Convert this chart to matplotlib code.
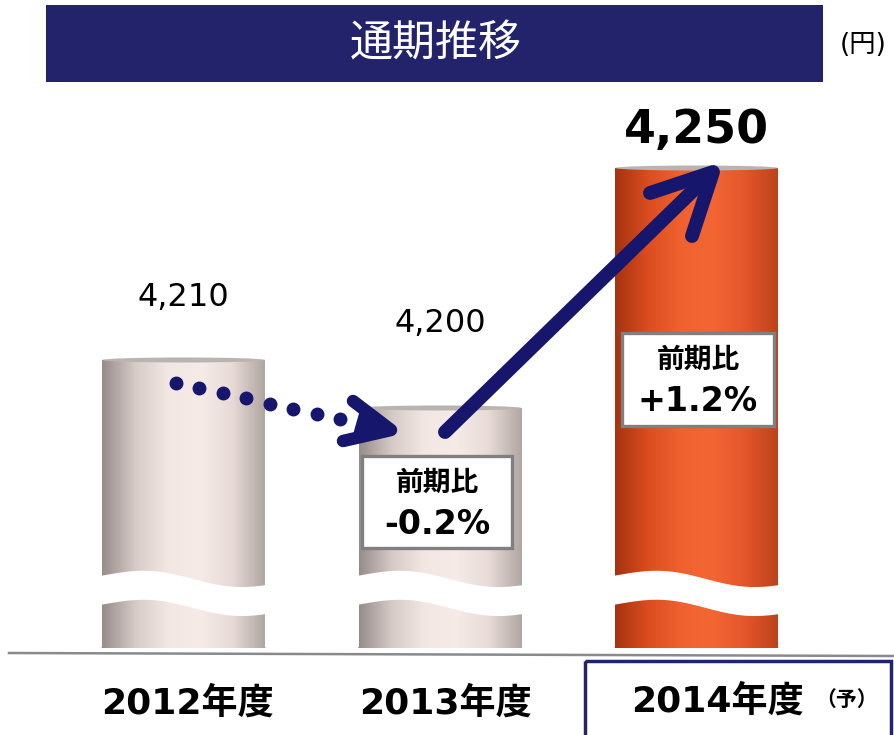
import numpy as np
import matplotlib
matplotlib.use("Agg")
import matplotlib.pyplot as plt
from matplotlib.colors import LinearSegmentedColormap
from matplotlib.patches import Rectangle, Ellipse, Polygon

plt.rcParams['font.family'] = ['DejaVu Sans', 'Noto Sans CJK JP']

# データ
years = ['2012年度', '2013年度', '2014年度']
values = [4210, 4200, 4250]
value_labels = ['4,210', '4,200', '4,250']
yoy_labels = ['', '-0.2%', '+1.2%']
base = 4150          # 省略軸の起点
top = 4285

W, H = 894, 735
fig = plt.figure(figsize=(W / 100, H / 100), dpi=100)

# 棒グラフ用の軸（上端0px〜下端648px）
ax = fig.add_axes([0, (H - 648) / H, 1, 648 / H])
ax.set_xlim(-183.5 / 256.5, (W - 183.5) / 256.5)
ax.set_ylim(base, top)
ax.axis('off')

x = np.arange(len(years))
width = 0.635
colors = ['#efe2de', '#efe2de', '#ea5a2b']
bars = ax.bar(x, np.array(values) - base, bottom=base, width=width, color=colors, zorder=2)

pale = LinearSegmentedColormap.from_list('pale', ['#968c89', '#d6cac6', '#f3e7e3', '#f6ebe7', '#e8dbd7', '#b0a6a2'])
orange = LinearSegmentedColormap.from_list('orange', ['#a5330f', '#db4c20', '#f0612f', '#f36633', '#e4552a', '#bb441c'])
grad = np.linspace(0, 1, 256).reshape(1, -1)

px = 648 / (top - base)   # 1単位あたりのピクセル

for i, b in enumerate(bars):
    x0, w = b.get_x(), b.get_width()
    cmap = orange if i == 2 else pale
    im = ax.imshow(grad, cmap=cmap, aspect='auto', extent=(x0, x0 + w, base, values[i]),
                   zorder=3, interpolation='bilinear')
    im.set_clip_path(b)
    # 底面の楕円
    ax.add_patch(Ellipse((x0 + w / 2, base), w, 9 / px,
                         facecolor=cmap(0.6), edgecolor='#9a9a9a', lw=1.0, zorder=1))
    # 上面の縁
    ax.add_patch(Ellipse((x0 + w / 2, values[i]), w, 5 / px,
                         facecolor='#b9b3b1', edgecolor='none', zorder=4))
    # 波線（省略記号）
    t = np.linspace(0, 1, 100)
    yt = 574 - 6 * np.cos(2 * np.pi * (t - 0.3)) + 8 * t
    yb = yt + 29
    xs = x0 - 0.02 + t * (w + 0.04)
    ax.fill_between(xs, base + (648 - yb) / px, base + (648 - yt) / px,
                    color='white', zorder=5, lw=0)

# 数値ラベル
offsets = [62, 85, 38]
for i in range(3):
    bold = i == 2
    ax.annotate(value_labels[i], (x[i], values[i]), xytext=(0, offsets[i] * 0.72),
                textcoords='offset points', ha='center', va='center',
                fontsize=33 if bold else 23, fontweight='bold' if bold else 'normal',
                color='black', zorder=6)

# 装飾用の重ね軸（ピクセル座標）
ov = fig.add_axes([0, 0, 1, 1], zorder=5)
ov.set_xlim(0, W)
ov.set_ylim(H, 0)
ov.axis('off')
ov.patch.set_alpha(0)

# タイトル帯
ov.add_patch(Rectangle((46, 5), 777, 77, facecolor='#22236b', edgecolor='none'))
ov.text(436, 45, '通期推移', color='white', fontsize=31, ha='center', va='center')
ov.text(863, 45, '(円)', color='black', fontsize=19, ha='center', va='center')

# 基線
ov.plot([9, 894], [653, 656], color='#8a8a8a', lw=1.8)

# 年度ラベル
ov.text(188, 703, years[0], fontsize=26, fontweight='bold', ha='center', va='center')
ov.text(445, 703, years[1], fontsize=26, fontweight='bold', ha='center', va='center')
ov.text(717, 701, years[2], fontsize=26, fontweight='bold', ha='center', va='center')
ov.text(847, 700, '（予）', fontsize=15, fontweight='bold', ha='center', va='center')
ov.add_patch(Rectangle((585, 661), 306, 90, facecolor='none', edgecolor='#22236b', lw=2.5))

# 点線矢印
navy = '#15166c'
dx = np.linspace(176, 340, 8)
dy = np.linspace(383, 419, 8)
ov.plot(dx, dy, 'o', color=navy, markersize=9, zorder=6)
ov.add_patch(Polygon([(360, 410), (390, 430), (352, 438)], closed=True,
                     facecolor=navy, edgecolor='none', zorder=6))
ov.plot([353, 391, 343], [401, 430, 441], color=navy, lw=9,
        solid_capstyle='round', solid_joinstyle='round', zorder=6)

# 実線矢印
ov.plot([445, 708], [432, 176], color=navy, lw=10, solid_capstyle='round', zorder=6)
ov.plot([650, 713, 692], [193, 172, 236], color=navy, lw=10,
        solid_capstyle='round', solid_joinstyle='round', zorder=6)

# 前期比ボックス
boxes = [None, (362, 456, 150, 92), (622, 333, 152, 93)]
for i in (1, 2):
    bx, by, bw, bh = boxes[i]
    ov.add_patch(Rectangle((bx, by), bw, bh, facecolor='white', edgecolor='#808080', lw=2.4, zorder=7))
    ov.text(bx + bw / 2, by + 27, '前期比', fontsize=20, fontweight='bold',
            ha='center', va='center', zorder=8)
    ov.text(bx + bw / 2, by + 68, yoy_labels[i], fontsize=24, fontweight='bold',
            ha='center', va='center', zorder=8)

fig.savefig('out.png', dpi=100)
